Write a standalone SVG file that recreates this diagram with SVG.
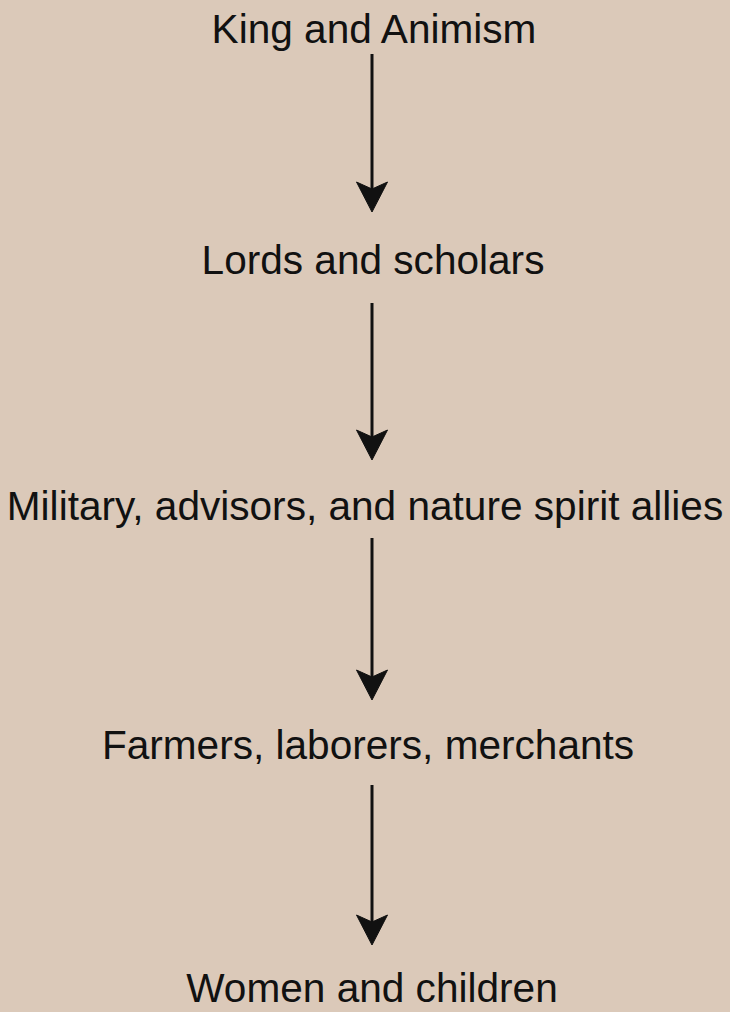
<svg xmlns="http://www.w3.org/2000/svg" width="730" height="1012" viewBox="0 0 730 1012">
  <defs>
    <style>
      .label { font-family: "Liberation Sans", Arial, sans-serif; font-size: 40.6px; fill: #111111; text-anchor: middle; }
      .edge { stroke: #111111; stroke-width: 3; fill: none; }
      .head { fill: #111111; stroke: #111111; stroke-width: 1; stroke-linejoin: miter; }
    </style>
  </defs>
  <rect width="730" height="1012" fill="#dbc9b9"/>

  <!-- hierarchy levels -->
  <g id="node-king">
    <text class="label" x="374" y="43">King and Animism</text>
  </g>
  <g id="node-lords">
    <text class="label" x="373" y="274">Lords and scholars</text>
  </g>
  <g id="node-military">
    <text class="label" x="365" y="520">Military, advisors, and nature spirit allies</text>
  </g>
  <g id="node-farmers">
    <text class="label" x="368" y="759">Farmers, laborers, merchants</text>
  </g>
  <g id="node-women">
    <text class="label" x="372" y="1002">Women and children</text>
  </g>

  <!-- downward connectors -->
  <g id="connectors">
    <line class="edge" x1="372" y1="54" x2="372" y2="192"/>
    <path class="head" d="M372,212 L356.5,182 L372,189 L387.5,182 Z"/>

    <line class="edge" x1="372" y1="303" x2="372" y2="440"/>
    <path class="head" d="M372,460 L356.5,430 L372,437 L387.5,430 Z"/>

    <line class="edge" x1="372" y1="538" x2="372" y2="680"/>
    <path class="head" d="M372,700 L356.5,670 L372,677 L387.5,670 Z"/>

    <line class="edge" x1="372" y1="785" x2="372" y2="925"/>
    <path class="head" d="M372,945 L356.5,915 L372,922 L387.5,915 Z"/>
  </g>
</svg>
